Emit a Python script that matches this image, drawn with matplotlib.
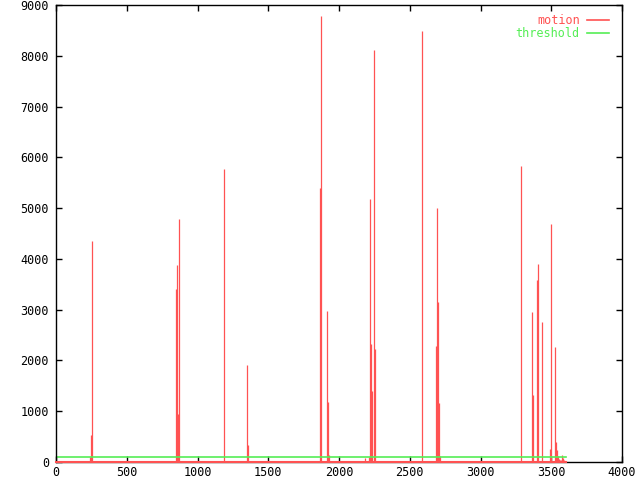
import matplotlib
matplotlib.use("Agg")
import matplotlib.pyplot as plt
from matplotlib.lines import Line2D

# Data
spike_x = [243, 250, 257,
           850, 857, 864, 871,
           1187, 1352, 1359,
           1868, 1875, 1917, 1924, 1930,
           2186, 2214, 2221, 2228, 2235, 2250, 2257,
           2589, 2688, 2695, 2702, 2709, 2716,
           3289, 3366, 3373, 3402, 3409, 3437,
           3493, 3500, 3529, 3536, 3543, 3550, 3557, 3564, 3571, 3578, 3585, 3592]
spike_y = [100, 530, 4350,
           3400, 3880, 945, 4785,
           5770, 1910, 335,
           5395, 8780, 2973, 1181, 140,
           70, 100, 5180, 2320, 1400, 8110, 2225,
           8490, 2285, 5000, 3150, 1160, 120,
           5830, 2950, 1320, 3585, 3900, 2755,
           255, 4690, 2265, 395, 235, 120, 60, 40, 40, 140, 80, 40]
time_range = [0, 3605]
threshold = 100
xticks = [0, 500, 1000, 1500, 2000, 2500, 3000, 3500, 4000]
yticks = [0, 1000, 2000, 3000, 4000, 5000, 6000, 7000, 8000, 9000]

red = '#ff5252'
green = '#55ee55'

plt.rcParams['font.family'] = ['DejaVu Sans Mono']
fig = plt.figure(figsize=(6.4, 4.8), dpi=100)
ax = fig.add_axes([56/640, 18/480, 566/640, 457/480])

ax.vlines(spike_x, 0, spike_y, colors=red, linewidth=0.9)
ax.plot(time_range, [0, 0], color=red, linewidth=1.5, clip_on=False, zorder=5)
ax.plot(time_range, [threshold, threshold], color=green, linewidth=1.2)

ax.set_xlim(0, 4000)
ax.set_ylim(0, 9000)
ax.set_xticks(xticks)
ax.set_yticks(yticks)
ax.tick_params(direction='in', length=4.5, width=1, top=True, right=True,
               labelsize=8.5)
ax.tick_params(axis='x', pad=3)
ax.tick_params(axis='y', pad=5)
for s in ax.spines.values():
    s.set_linewidth(1)

handles = [Line2D([], [], color=red, linewidth=1.2), Line2D([], [], color=green, linewidth=1.2)]
leg = ax.legend(handles, ['motion', 'threshold'], loc='upper right', frameon=False,
                markerfirst=False, labelcolor=[red, green], fontsize=8.5,
                handlelength=1.9, handletextpad=0.6, labelspacing=-0.05,
                borderaxespad=0.0, bbox_to_anchor=(0.986, 0.99))
for t in leg.get_texts():
    t.set_ha('right')

fig.savefig('out.png', dpi=100)
